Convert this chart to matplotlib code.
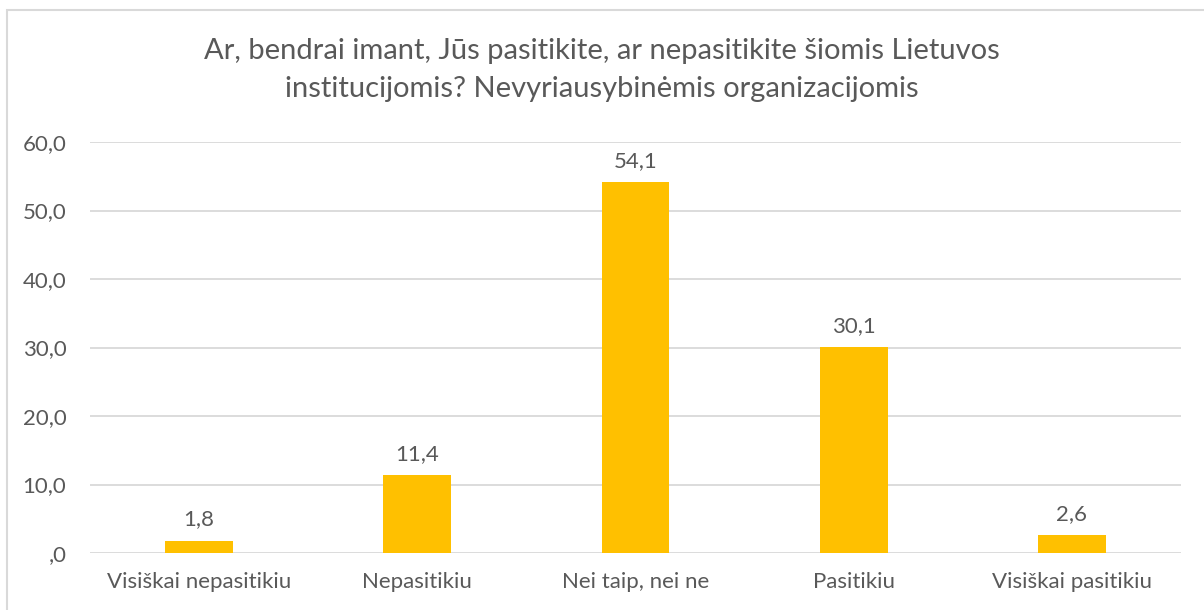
import matplotlib
matplotlib.use("Agg")
import matplotlib.pyplot as plt
from matplotlib.patches import Rectangle

categories = ["Visiškai nepasitikiu", "Nepasitikiu", "Nei taip, nei ne", "Pasitikiu", "Visiškai pasitikiu"]
values = [1.8, 11.4, 54.1, 30.1, 2.6]
y_ticks = [0, 10, 20, 30, 40, 50, 60]
y_tick_labels = [",0", "10,0", "20,0", "30,0", "40,0", "50,0", "60,0"]
title = "Ar, bendrai imant, Jūs pasitikite, ar nepasitikite šiomis Lietuvos\ninstitucijomis? Nevyriausybinėmis organizacijomis"

text_color = "#595959"
bar_color = "#FFC000"
grid_color = "#D9D9D9"

plt.rcParams['font.family'] = ['Lato', 'DejaVu Sans']

fig = plt.figure(figsize=(12.04, 6.10), dpi=100)
ax = fig.add_axes([90 / 1204, 1 - 553 / 610, (1181 - 90) / 1204, (553 - 142) / 610])

x = range(len(categories))
bars = ax.bar(x, values, width=0.31, color=bar_color, zorder=3)

for xi, v in zip(x, values):
    ax.annotate(f"{v:.1f}".replace(".", ","), (xi, v), xytext=(0, 8),
                textcoords="offset points", ha="center", va="bottom",
                fontsize=16, color=text_color)

ax.set_xlim(-0.5, len(categories) - 0.5)
ax.set_ylim(0, 60)
ax.set_yticks(y_ticks)
ax.set_yticklabels(y_tick_labels)
ax.set_xticks(list(x))
ax.set_xticklabels(categories)
ax.tick_params(axis="both", length=0, labelsize=16, colors=text_color)
ax.tick_params(axis="y", pad=17)
ax.tick_params(axis="x", pad=14)
ax.grid(axis="y", color=grid_color, linewidth=1.3, zorder=0)
for s in ax.spines.values():
    s.set_visible(False)

fig.text(0.5, 1 - 70 / 610, title, ha="center", va="center", fontsize=21,
         color=text_color, linespacing=1.55)

# chart border (right and bottom edges fall outside the crop)
fig.patches.append(Rectangle((7 / 1204, -0.1), 1.2, 1 - 10 / 610 + 0.1,
                             transform=fig.transFigure, fill=False,
                             edgecolor=grid_color, linewidth=1.5))

fig.savefig("out.png", dpi=100)
